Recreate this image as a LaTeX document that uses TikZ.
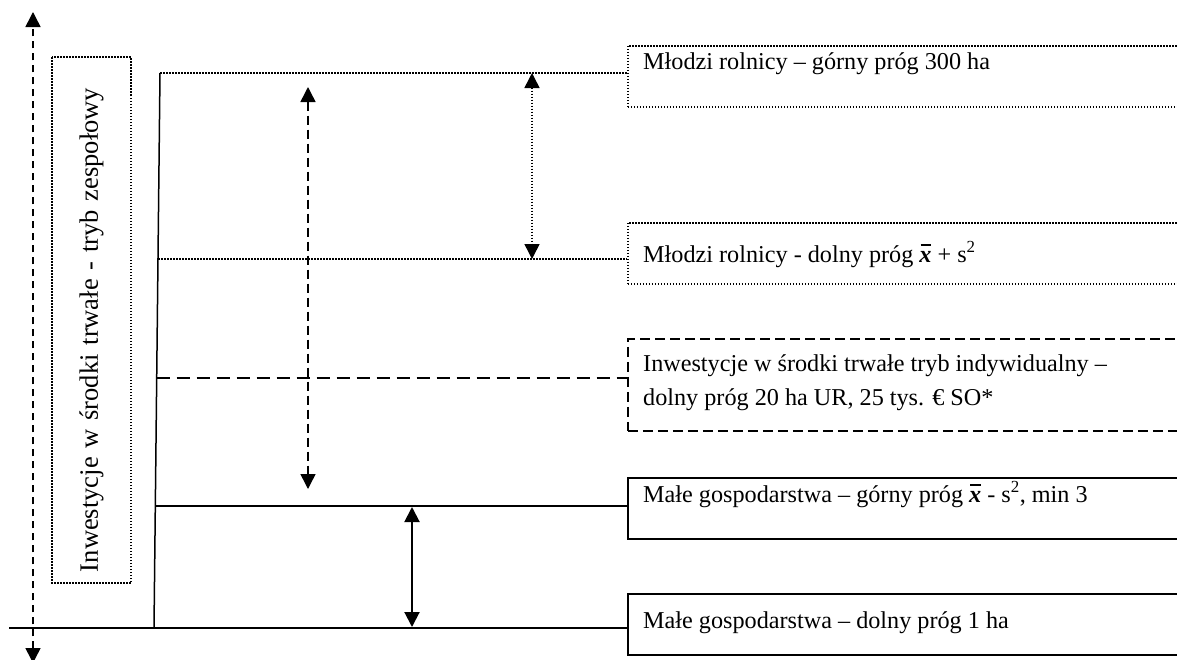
\documentclass[tikz,border=0pt]{standalone}
\usepackage{fontspec}
\setmainfont{Liberation Serif}
\usetikzlibrary{arrows.meta}
\newcommand\xbarsym{\textbf{\textit{x}}\llap{\rule[0.68em]{0.42em}{0.08em}\hspace{0.03em}}}
\begin{document}
\begin{tikzpicture}[x=1pt,y=-1pt,
  every node/.style={font=\fontsize{24.2}{34}\selectfont, inner sep=0pt},
  lbl/.style={anchor=base west},
  boxs/.style={anchor=north west, minimum width=700pt, line width=1.8pt, draw},
  dotp/.style={dash pattern=on 1.5pt off 1.5pt},
  dashp/.style={dash pattern=on 13pt off 7pt},
  boxdash/.style={dash pattern=on 10pt off 5pt},
  arrdash/.style={dash pattern=on 9pt off 5pt},
  leftdash/.style={dash pattern=on 7pt off 5pt},
  tip/.style={{Triangle[width=15pt,length=15pt]}-{Triangle[width=15pt,length=15pt]}},
  thin line/.style={line width=1.5pt},
  thick line/.style={line width=2pt}
]
\useasboundingbox (0,0) rectangle (1177,659);

% right-hand boxes
\node[boxs, dotp, minimum height=61pt] (b1) at (627,45) {};
\node[boxs, dotp, minimum height=61pt] (b2) at (627,222) {};
\node[boxs, boxdash, minimum height=92pt] (b3) at (627,338) {};
\node[boxs, minimum height=61pt] (b4) at (627,477) {};
\node[boxs, minimum height=61pt] (b5) at (627,593) {};

\node[lbl] (t1) at (643,69) {Młodzi rolnicy – górny próg 300 ha};
\node[lbl] (t2) at (643,262) {Młodzi rolnicy - dolny próg \xbarsym{} + s\textsuperscript{2}};
\node[lbl] (t3a) at (643,371) {Inwestycje w środki trwałe tryb indywidualny –};
\node[lbl] (t3b) at (643,405) {dolny próg 20 ha UR, 25 tys. € SO*};
\node[lbl] (t4) at (643,502) {Małe gospodarstwa – górny próg \xbarsym{} - s\textsuperscript{2}, min 3};
\node[lbl] (t5) at (643,628) {Małe gospodarstwa – dolny próg 1 ha};

% left rotated box
\node[draw, dotp, line width=1.5pt, rotate=90, minimum width=526pt, minimum height=79pt,
      text width=504pt, align=left, inner xsep=11pt, font=\fontsize{26.5}{34}\selectfont] (zesp) at (91.5,320)
      {Inwestycje w środki trwałe - tryb zespołowy};

% left dashed double arrow
\coordinate (vtop) at (33,12);
\coordinate (vbot) at (33,663);
\draw[tip, leftdash, thin line] (vbot) -- (vtop);

% slanted axis
\coordinate (st) at (160,73);
\coordinate (sb) at (154,628);
\draw[thin line] (st) -- (sb);

% level lines
\coordinate (l2) at (158,259);
\coordinate (l3) at (156.7,378);
\coordinate (l4) at (155.3,506);
\coordinate (l5) at (9,628);
\draw[thin line, dotp] (st) -- (st -| b1.west);
\draw[thin line, dotp] (l2) -- (l2 -| b2.west);
\draw[thin line, dashp] (l3) -- (l3 -| b3.west);
\draw[thin line] (l4) -- (l4 -| b4.west);
\draw[thick line] (l5) -- (l5 -| b5.west);

% double arrows
\coordinate (a1t) at (308,87);
\coordinate (a1b) at (308,489);
\draw[tip, arrdash, thin line] (a1t) -- (a1b);
\coordinate (a2t) at (532,73);
\coordinate (a2b) at (532,259);
\draw[tip, dotp, thin line] (a2t) -- (a2b);
\coordinate (a3t) at (412,507);
\coordinate (a3b) at (412,627);
\draw[tip, thick line] (a3t) -- (a3b);
\end{tikzpicture}
\end{document}
